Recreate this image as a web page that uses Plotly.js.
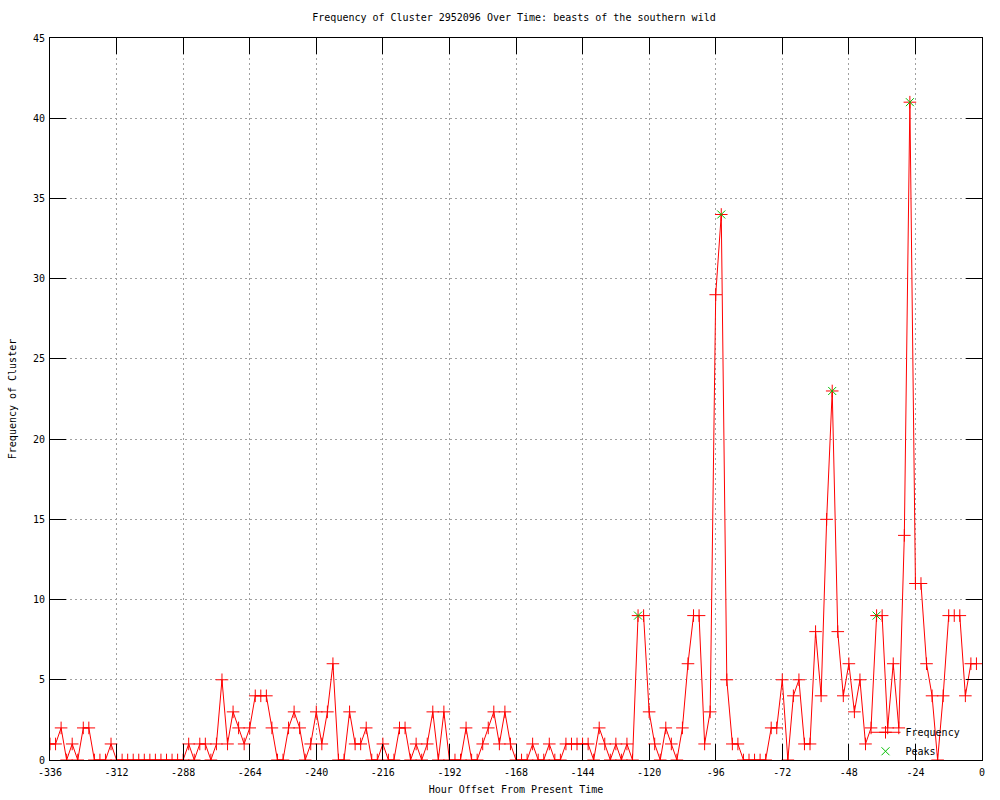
<!DOCTYPE html>
<html>
<head>
<meta charset="utf-8">
<script src="https://cdn.plot.ly/plotly-3.0.1.min.js"></script>
<style>html,body{margin:0;padding:0;background:#fff;}#chart{width:1000px;height:800px;}</style>
</head>
<body>
<div id="chart"></div>
<script>
const hours = [-336,-334,-332,-330,-328,-326,-324,-322,-320,-318,-316,-314,-312,-310,-308,-306,-304,-302,-300,-298,-296,-294,-292,-290,-288,-286,-284,-282,-280,-278,-276,-274,-272,-270,-268,-266,-264,-262,-260,-258,-256,-254,-252,-250,-248,-246,-244,-242,-240,-238,-236,-234,-232,-230,-228,-226,-224,-222,-220,-218,-216,-214,-212,-210,-208,-206,-204,-202,-200,-198,-196,-194,-192,-190,-188,-186,-184,-182,-180,-178,-176,-174,-172,-170,-168,-166,-164,-162,-160,-158,-156,-154,-152,-150,-148,-146,-144,-142,-140,-138,-136,-134,-132,-130,-128,-126,-124,-122,-120,-118,-116,-114,-112,-110,-108,-106,-104,-102,-100,-98,-96,-94,-92,-90,-88,-86,-84,-82,-80,-78,-76,-74,-72,-70,-68,-66,-64,-62,-60,-58,-56,-54,-52,-50,-48,-46,-44,-42,-40,-38,-36,-34,-32,-30,-28,-26,-24,-22,-20,-18,-16,-14,-12,-10,-8,-6,-4,-2];
const frequency = [1,1,2,0,1,0,2,2,0,0,0,1,0,0,0,0,0,0,0,0,0,0,0,0,0,1,0,1,1,0,1,5,1,3,2,1,2,4,4,4,2,0,0,2,3,2,0,1,3,1,3,6,0,0,3,1,1,2,0,0,1,0,0,2,2,0,1,0,1,3,0,3,0,0,0,2,0,0,1,2,3,1,3,1,0,0,0,1,0,0,1,0,0,1,1,1,1,1,0,2,1,0,1,0,1,0,9,9,3,1,0,2,1,0,2,6,9,9,1,3,29,34,5,1,1,0,0,0,0,0,2,2,5,0,4,5,1,1,8,4,15,23,8,4,6,3,5,1,2,9,9,2,6,2,14,41,11,11,6,4,0,4,9,9,9,4,6,6];
const peakHours = [-124,-94,-54,-38,-26];
const peakValues = [9,34,23,9,41];
const xTicks = [-336,-312,-288,-264,-240,-216,-192,-168,-144,-120,-96,-72,-48,-24,0];
const yTicks = [0,5,10,15,20,25,30,35,40,45];

const FONT = 'DejaVu Sans Mono, monospace';
const traces = [
  {
    x: hours, y: frequency, name: 'Frequency', type: 'scatter', mode: 'lines+markers',
    line: {color: '#ff0000', width: 1},
    marker: {symbol: 'cross-thin', size: 9, color: '#ff0000', line: {color: '#ff0000', width: 1}}
  },
  {
    x: peakHours, y: peakValues, name: 'Peaks', type: 'scatter', mode: 'markers',
    marker: {symbol: 'x-thin', size: 8, color: '#00c000', line: {color: '#00c000', width: 1}}
  }
];
const axisCommon = {
  showline: true, linecolor: '#000', linewidth: 1, mirror: 'allticks',
  ticks: 'inside', ticklen: 16, tickcolor: '#000', tickwidth: 1,
  showgrid: true, gridcolor: '#a0a0a0', gridwidth: 1, griddash: '2px,3px',
  zeroline: false, tickfont: {family: FONT, size: 10, color: '#000'}
};
const layout = {
  width: 1000, height: 800,
  paper_bgcolor: '#fff', plot_bgcolor: '#fff',
  margin: {l: 50, r: 18, t: 38, b: 40, pad: 0},
  showlegend: true,
  title: {text: 'Frequency of Cluster 2952096 Over Time: beasts of the southern wild',
          font: {family: FONT, size: 10, color: '#000'}, x: 0.514, xanchor: 'center', y: 0.978, yanchor: 'middle'},
  xaxis: Object.assign({}, axisCommon, {
    range: [-336, 0], tickmode: 'array', tickvals: xTicks, ticktext: xTicks.map(String),
    ticklabelstandoff: 3,
    title: {text: 'Hour Offset From Present Time', font: {family: FONT, size: 10, color: '#000'}, standoff: 8}
  }),
  yaxis: Object.assign({}, axisCommon, {
    range: [0, 45], tickmode: 'array', tickvals: yTicks, ticktext: yTicks.map(String),
    ticklabelstandoff: 2,
    title: {text: 'Frequency of Cluster', font: {family: FONT, size: 10, color: '#000'}, standoff: 14}
  }),
  legend: {
    x: 0.875, xanchor: 'left', y: -0.008, yanchor: 'bottom',
    bgcolor: 'rgba(0,0,0,0)', borderwidth: 0,
    font: {family: FONT, size: 10, color: '#000'}, tracegroupgap: 0, itemwidth: 30
  }
};
Plotly.newPlot('chart', traces, layout, {displayModeBar: false, staticPlot: true});
</script>
</body>
</html>
